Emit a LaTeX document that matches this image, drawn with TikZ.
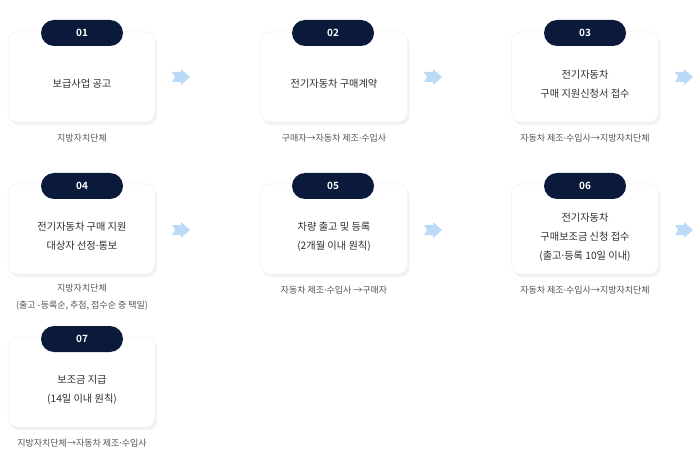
\documentclass[tikz,border=0pt]{standalone}
\usepackage{fontspec}
\setmainfont{Noto Sans CJK KR}
\newfontfamily\krbold{Noto Sans CJK KR Bold}
\newfontfamily\latinfont{Noto Sans}
\newcommand{\md}{{\latinfont ·}}
\usetikzlibrary{shadows}
\definecolor{navy}{HTML}{0B1A3A}
\definecolor{txt}{HTML}{2E2E2E}
\definecolor{sub}{HTML}{555555}
\definecolor{arr}{HTML}{BBDAF8}
\tikzset{
  card/.style={draw=black!6, line width=0.5pt, fill=white, rounded corners=9pt,
    minimum width=147pt, minimum height=90pt, inner sep=0pt,
    drop shadow={shadow xshift=2pt, shadow yshift=-3pt, opacity=0.05, fill=black},
  },
  pill/.style={fill=navy, rounded corners=13pt, minimum width=82pt, minimum height=26pt,
    text=white, font=\krbold\fontsize{10}{12}\selectfont, inner sep=0pt},
  ctext/.style={text=txt, align=center, font=\fontsize{10.2}{19}\selectfont},
  stext/.style={text=sub, align=center, font=\fontsize{9}{16.5}\selectfont},
}
\newcommand{\farrow}[2]{\fill[arr] (#1-9,#2-5) -- (#1,#2-5) -- (#1,#2-8) -- (#1+9,#2) -- (#1,#2+8) -- (#1,#2+5) -- (#1-9,#2+5) -- (#1-6,#2) -- cycle;}
\begin{document}
\begin{tikzpicture}[x=1pt,y=-1pt]
\useasboundingbox[fill=white] (0,0) rectangle (700,454);
% row 1
\node[card] (c1) at (81.5,77) {};
\node[card] (c2) at (334,77) {};
\node[card] (c3) at (585,77) {};
% row 2
\node[card] (c4) at (81.5,229) {};
\node[card] (c5) at (334,229) {};
\node[card] (c6) at (585,229) {};
% row 3
\node[card] (c7) at (81.5,382) {};
% pills
\node[pill] (p1) at (82,33) {01};
\node[pill] (p2) at (333,33) {02};
\node[pill] (p3) at (585,33) {03};
\node[pill] (p4) at (82,186) {04};
\node[pill] (p5) at (333,186) {05};
\node[pill] (p6) at (585,186) {06};
\node[pill] (p7) at (82,339) {07};
% card texts
\node[ctext] (t1) at (82,84) {보급사업 공고};
\node[ctext] (t2) at (334,84) {전기자동차 구매계약};
\node[ctext] (t3) at (585,84) {전기자동차\\구매 지원신청서 접수};
\node[ctext] (t4) at (82,236.5) {전기자동차 구매 지원\\대상자 선정\md 통보};
\node[ctext] (t5) at (334,236.5) {차량 출고 및 등록\\(2개월 이내 원칙)};
\node[ctext] (t6) at (585,237.5) {전기자동차\\구매보조금 신청 접수\\(출고\md 등록 10일 이내)};
\node[ctext] (t7) at (82,389.5) {보조금 지급\\(14일 이내 원칙)};
% sub labels
\node[stext] (s1) at (82,138) {지방자치단체};
\node[stext] (s2) at (334,138) {구매자→자동차 제조\md 수입사};
\node[stext] (s3) at (585,138) {자동차 제조\md 수입사→지방자치단체};
\node[stext] (s4) at (82,297) {지방자치단체\\(출고 -등록순, 추첨, 접수순 중 택일)};
\node[stext] (s5) at (334,290) {자동차 제조\md 수입사 →구매자};
\node[stext] (s6) at (585,290) {자동차 제조\md 수입사→지방자치단체};
\node[stext] (s7) at (82,443) {지방자치단체→자동차 제조\md 수입사};
% arrows
\farrow{181}{77}
\farrow{433}{77}
\farrow{684}{77}
\farrow{181}{230}
\farrow{433}{230}
\farrow{684}{230}
\end{tikzpicture}
\end{document}
